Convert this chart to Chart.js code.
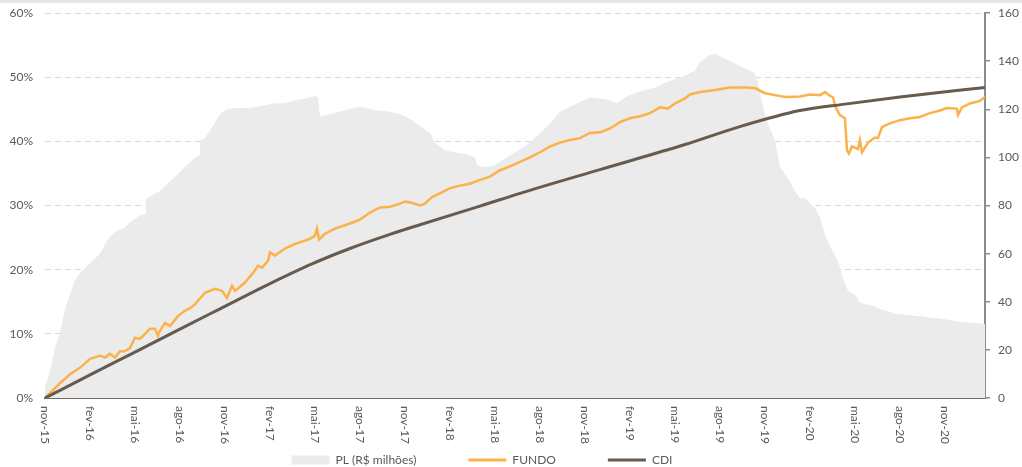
<!DOCTYPE html>
<html>
<head>
<meta charset="utf-8">
<script src="https://cdn.jsdelivr.net/npm/chart.js@4.4.1/dist/chart.umd.min.js"></script>
<style>
   body { margin: 0; background: #fff; }
   #wrap { position: relative; width: 1022px; height: 467px; }
   #topband { position: absolute; left: 0; top: 0; width: 1022px; height: 3px; background: #e4e7ea; }
</style>
</head>
<body>
<div id="wrap">
   <canvas id="graph" width="1022" height="467"></canvas>
   <div id="topband"></div>
</div>
<script>
// months counted from nov-15 (0) onwards
const tickLabels = ["nov-15", "fev-16", "mai-16", "ago-16", "nov-16", "fev-17", "mai-17",
   "ago-17", "nov-17", "fev-18", "mai-18", "ago-18", "nov-18", "fev-19", "mai-19",
   "ago-19", "nov-19", "fev-20", "mai-20", "ago-20", "nov-20"];
const tickMonths = [0, 3, 6, 9, 12, 15, 18, 21, 24, 27, 30, 33, 36, 39, 42, 45, 48, 51, 54, 57, 60];
const lastMonth = 62.67;

// PL (R$ milhões), right axis
const plMonths = [
   0, 0.13, 0.33, 0.67, 1, 1.33, 1.67, 2, 2.33, 2.67,
   3, 3.33, 3.67, 4, 4.33, 4.67, 5, 5.33, 5.67, 6,
   6.33, 6.67, 6.73, 7, 7.33, 7.67, 8, 8.33, 8.67, 9,
   9.33, 9.67, 10, 10.27, 10.33, 10.67, 11.2, 11.67, 12.13, 12.67,
   13.67, 14.67, 15.33, 16, 16.67, 17.33, 18, 18.2, 18.33, 19,
   20, 21, 22, 23, 23.67, 24.33, 25, 25.67, 26, 26.67,
   27.33, 28, 28.67, 28.8, 29.33, 30, 30.67, 31.33, 32, 33,
   33.67, 34.33, 35, 35.67, 36.33, 37, 37.67, 38.13, 38.67, 39.33,
   40, 40.67, 41.33, 42, 42.67, 43.33, 43.67, 44.33, 44.67, 45.33,
   46, 46.67, 47.33, 47.53, 47.87, 48.2, 48.67, 49, 49.33, 49.67,
   50, 50.33, 50.67, 51.33, 51.67, 52, 52.33, 52.87, 53.13, 53.53,
   54, 54.33, 55.33, 55.67, 56.67, 58.33, 59.67, 61, 62.67];
const plValues = [
   5, 7, 11, 21, 27, 37, 43, 49, 52, 54,
   56, 58, 60, 64, 67, 69, 70, 71, 73, 74.5,
   76, 76.5, 83, 83.5, 85, 86, 88, 90, 92, 94,
   96, 98, 100, 101, 107, 108, 113, 118, 120, 120.5,
   120.5, 121.7, 122.5, 122.5, 123.7, 124.5, 125.5, 125, 117, 118,
   119.6, 121, 119.6, 119, 118, 116, 113, 110, 106, 103,
   102, 101.5, 100, 96.7, 96, 96.7, 99.5, 102, 104.5, 110,
   114, 119, 121, 123, 125, 124.5, 123.7, 122.5, 125, 126.7,
   128, 129, 131, 132.5, 134, 136, 139.6, 142.5, 143, 141,
   139, 137, 135, 131, 121, 114, 107, 96, 93, 90,
   86, 83, 83, 79, 75, 68, 63, 57, 51, 44.6,
   43, 39.6, 38, 37, 35, 34, 33, 31.7, 30.8];

// FUNDO, accumulated %
const fundoMonths = [
   0, 1, 1.67, 2.33, 3, 3.67, 4, 4.33, 4.67, 5,
   5.33, 5.67, 6, 6.33, 6.67, 7, 7.33, 7.53, 7.67, 8,
   8.33, 8.87, 9.33, 9.67, 10, 10.33, 10.67, 11.33, 11.8, 12.13,
   12.47, 12.67, 13.33, 13.87, 14.2, 14.47, 14.87, 15, 15.33, 16,
   16.67, 17.67, 18, 18.13, 18.27, 18.67, 19.33, 20.33, 21, 21.67,
   22.33, 23, 23.67, 24, 24.33, 25, 25.33, 25.8, 26.33, 27,
   27.67, 28.33, 29, 29.67, 30.33, 31, 31.67, 32.33, 33, 33.67,
   34.33, 35, 35.67, 36.33, 37, 37.67, 38.33, 39, 39.67, 40.33,
   41, 41.53, 42, 42.67, 43, 43.67, 44.67, 45.67, 46.67, 47.33,
   48, 48.67, 49.33, 50.33, 51, 51.67, 52, 52.33, 52.53, 52.73,
   53, 53.33, 53.47, 53.6, 53.8, 54.2, 54.33, 54.47, 54.87, 55.33,
   55.53, 55.8, 56.33, 57, 57.67, 58.33, 59, 59.67, 60.13, 60.8,
   60.87, 61.13, 61.67, 62.33, 62.67];
const fundoValues = [
   0, 2.3, 3.7, 4.7, 6.1, 6.6, 6.3, 6.9, 6.3, 7.3,
   7.3, 7.8, 9.4, 9.2, 10, 10.8, 10.8, 9.7, 10.5, 11.7,
   11.2, 12.8, 13.6, 14, 14.6, 15.5, 16.4, 17, 16.7, 15.6,
   17.5, 16.7, 18, 19.5, 20.6, 20.3, 21.4, 22.7, 22.2, 23.3,
   24, 24.8, 25.3, 26.4, 24.7, 25.6, 26.4, 27.2, 27.8, 28.9,
   29.7, 29.8, 30.3, 30.6, 30.5, 30, 30.3, 31.3, 31.9, 32.7,
   33.1, 33.4, 34, 34.5, 35.5, 36.1, 36.8, 37.5, 38.3, 39.2,
   39.8, 40.2, 40.5, 41.3, 41.4, 42, 43, 43.6, 43.9, 44.4,
   45.3, 45.1, 45.9, 46.7, 47.3, 47.7, 48, 48.4, 48.4, 48.3,
   47.5, 47.2, 46.9, 47, 47.3, 47.2, 47.7, 47.1, 46.9, 45.2,
   44.1, 43.6, 38.6, 38.1, 39.2, 38.8, 40.2, 38.3, 39.8, 40.6,
   40.5, 42.2, 42.8, 43.3, 43.6, 43.8, 44.4, 44.8, 45.2, 45.1,
   44.1, 45.3, 45.9, 46.3, 46.9];

// CDI, accumulated %
const cdiMonths = [0, 3, 5.87, 8.8, 11.67, 14.8, 17.8, 20.33, 23, 25, 29, 31.67, 37, 42.67, 46.33, 50.33, 53.33, 57, 62.67];
const cdiValues = [0, 3.6, 7.0, 10.5, 13.9, 17.6, 20.9, 23.3, 25.5, 27.0, 29.9, 31.9, 35.6, 39.5, 42.3, 44.8, 45.8, 46.9, 48.4];

const toPoints = (xs, ys) => xs.map((x, i) => ({ x: x, y: ys[i] }));

Chart.defaults.font.family = "Lato";
Chart.defaults.font.size = 12;
Chart.defaults.color = "#595959";

// x labels read top-to-bottom, which Chart.js cannot rotate that way itself
const verticalTicks =
{
   id: "verticalTicks",
   afterDraw(chart)
   {
      const ctx = chart.ctx;
      const xs = chart.scales.x;
      ctx.save();
      ctx.font = "12px Lato";
      ctx.fillStyle = "#595959";
      ctx.textAlign = "left";
      ctx.textBaseline = "middle";
      tickMonths.forEach((m, i) =>
      {
         ctx.save();
         ctx.translate(xs.getPixelForValue(m), chart.chartArea.bottom + 8);
         ctx.rotate(Math.PI / 2);
         ctx.fillText(tickLabels[i], 0, 0);
         ctx.restore();
      });
      ctx.restore();
   }
};

// the legend in the original sits a bit left of centre
const legendShift =
{
   id: "legendShift",
   afterLayout(chart)
   {
      chart.legend.left -= 29;
      chart.legend.right -= 29;
   }
};

// keep the tick padding from pushing the plot area down
const noScalePad = s =>
{
   s.paddingTop = 0;
   s.paddingBottom = 0;
};

new Chart(document.getElementById("graph").getContext("2d"),
{
   type: "line",
   data:
   {
      datasets:
      [
         {
            label: "PL (R$ milhões)",
            data: toPoints(plMonths, plValues),
            yAxisID: "y1",
            fill: "origin",
            backgroundColor: "#ebebeb",
            borderColor: "rgba(0,0,0,0)",
            borderWidth: 0,
            pointRadius: 0,
            pointStyle: "rect",
            pointBackgroundColor: "#ebebeb",
            pointBorderWidth: 0,
            order: 3
         },
         {
            label: "FUNDO",
            data: toPoints(fundoMonths, fundoValues),
            yAxisID: "y",
            fill: false,
            borderColor: "#fbb24a",
            backgroundColor: "#fbb24a",
            borderWidth: 2.5,
            pointRadius: 0,
            pointStyle: "line",
            pointBorderColor: "#fbb24a",
            pointBorderWidth: 3,
            order: 2
         },
         {
            label: "CDI",
            data: toPoints(cdiMonths, cdiValues),
            yAxisID: "y",
            fill: false,
            borderColor: "#675b50",
            backgroundColor: "#675b50",
            borderWidth: 3,
            cubicInterpolationMode: "monotone",
            pointRadius: 0,
            pointStyle: "line",
            pointBorderColor: "#675b50",
            pointBorderWidth: 3,
            order: 1
         }
      ]
   },
   options:
   {
      animation: false,
      responsive: false,
      layout: { padding: { top: 13, bottom: -9, left: 0, right: 0 } },
      scales:
      {
         x:
         {
            type: "linear",
            min: 0,
            max: lastMonth,
            ticks: { display: false },
            grid: { display: false },
            border: { display: true, color: "#776b60", width: 2 },
            afterFit: s => { s.height = 4; }
         },
         y:
         {
            position: "left",
            min: 0,
            max: 60,
            ticks:
            {
               stepSize: 10,
               padding: 12,
               color: "#595959",
               callback: v => v + "%"
            },
            grid: { color: "#d9d9d9", drawTicks: false, lineWidth: 1 },
            border: { display: false, dash: [6, 4] },
            afterFit: s => { s.width = 45; noScalePad(s); }
         },
         y1:
         {
            position: "right",
            min: 0,
            max: 160,
            ticks: { stepSize: 20, padding: 8, color: "#595959" },
            grid: { drawOnChartArea: false, drawTicks: true, tickLength: 5, color: "#8c8c8c", lineWidth: 1.5 },
            border: { display: true, color: "#8c8c8c", width: 2 },
            afterFit: s => { s.width = 37; noScalePad(s); }
         }
      },
      plugins:
      {
         legend:
         {
            position: "bottom",
            labels:
            {
               usePointStyle: true,
               pointStyleWidth: 38,
               boxHeight: 9,
               padding: 52,
               color: "#595959",
               sort: (a, b) => a.datasetIndex - b.datasetIndex
            }
         },
         tooltip: { enabled: false }
      }
   },
   plugins: [verticalTicks, legendShift]
});
</script>
</body>
</html>
